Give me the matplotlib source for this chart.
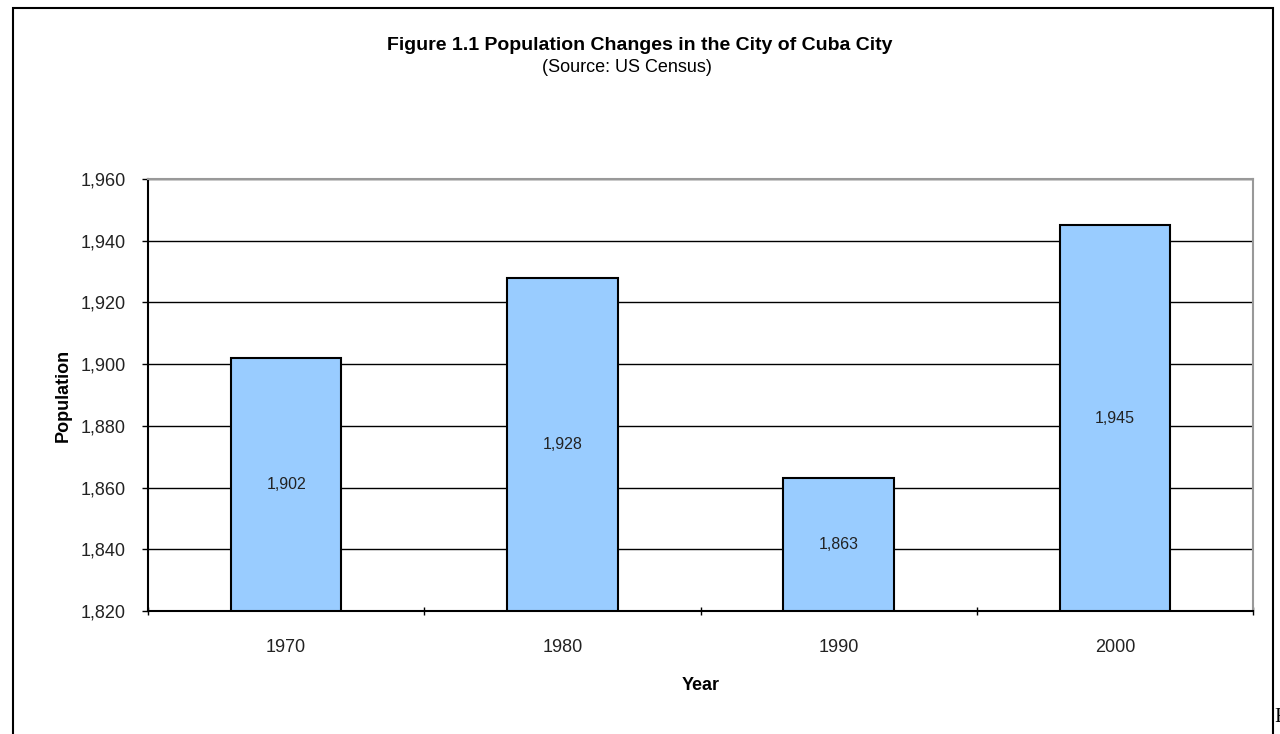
import matplotlib
matplotlib.use("Agg")
import matplotlib.pyplot as plt
from matplotlib.patches import Rectangle
from matplotlib.ticker import FuncFormatter, MultipleLocator

# Data
years = ["1970", "1980", "1990", "2000"]
population = [1902, 1928, 1863, 1945]

plt.rcParams["font.family"] = ["Liberation Sans", "DejaVu Sans"]

fig = plt.figure(figsize=(12.8, 7.34), dpi=100)
ax = fig.add_axes([148 / 1280, 1 - 611 / 734, 1105 / 1280, 432 / 734])

x = list(range(len(years)))
ax.bar(x, [p - 1820 for p in population], bottom=1820, width=0.4,
       color="#99CCFF", edgecolor="black", linewidth=1.5, zorder=3)

for xi, p in zip(x, population):
    ax.text(xi, (p + 1820) / 2, f"{p:,}", ha="center", va="center",
            fontsize=11.5, color="#222222", zorder=4)

ax.set_xlim(-0.5, len(years) - 0.5)
ax.set_ylim(1820, 1960)
ax.yaxis.set_major_locator(MultipleLocator(20))
ax.yaxis.set_major_formatter(FuncFormatter(lambda v, _: f"{int(v):,}"))
ax.set_xticks(x)
ax.set_xticklabels(years)
ax.set_xticks([i - 0.5 for i in range(len(years) + 1)], minor=True)
ax.tick_params(axis="x", which="major", length=0, pad=20, labelsize=13, labelcolor="#222222")
ax.tick_params(axis="x", which="minor", length=6, direction="inout", width=1)
ax.tick_params(axis="y", length=4, direction="out", width=1, pad=12, labelsize=13,
               labelcolor="#222222")

ax.grid(axis="y", color="black", linewidth=1, zorder=0)
ax.set_axisbelow(True)
for side in ("top", "right"):
    ax.spines[side].set_color("#999999")
    ax.spines[side].set_linewidth(1.5)
for side in ("left", "bottom"):
    ax.spines[side].set_color("black")
    ax.spines[side].set_linewidth(1.5)

ax.set_ylabel("Population", fontsize=13, fontweight="bold", labelpad=6)
ax.set_xlabel("Year", fontsize=13, fontweight="bold", labelpad=15)

fig.text(0.5, 1 - 45 / 734, "Figure 1.1 Population Changes in the City of Cuba City",
         ha="center", va="center", fontsize=14, fontweight="bold")
fig.text(0.49, 1 - 67 / 734, "(Source: US Census)", ha="center", va="center",
         fontsize=13)

# outer chart frame
fig.patches.append(Rectangle((13 / 1280, -0.05), 1260 / 1280, 1.05 - 8 / 734,
                             transform=fig.transFigure, fill=False,
                             edgecolor="black", linewidth=1.5))
fig.text(1274 / 1280, 1 - 718 / 734, "F", ha="left", va="center",
         fontsize=15, family="Liberation Serif")

fig.savefig("out.png", dpi=100)
